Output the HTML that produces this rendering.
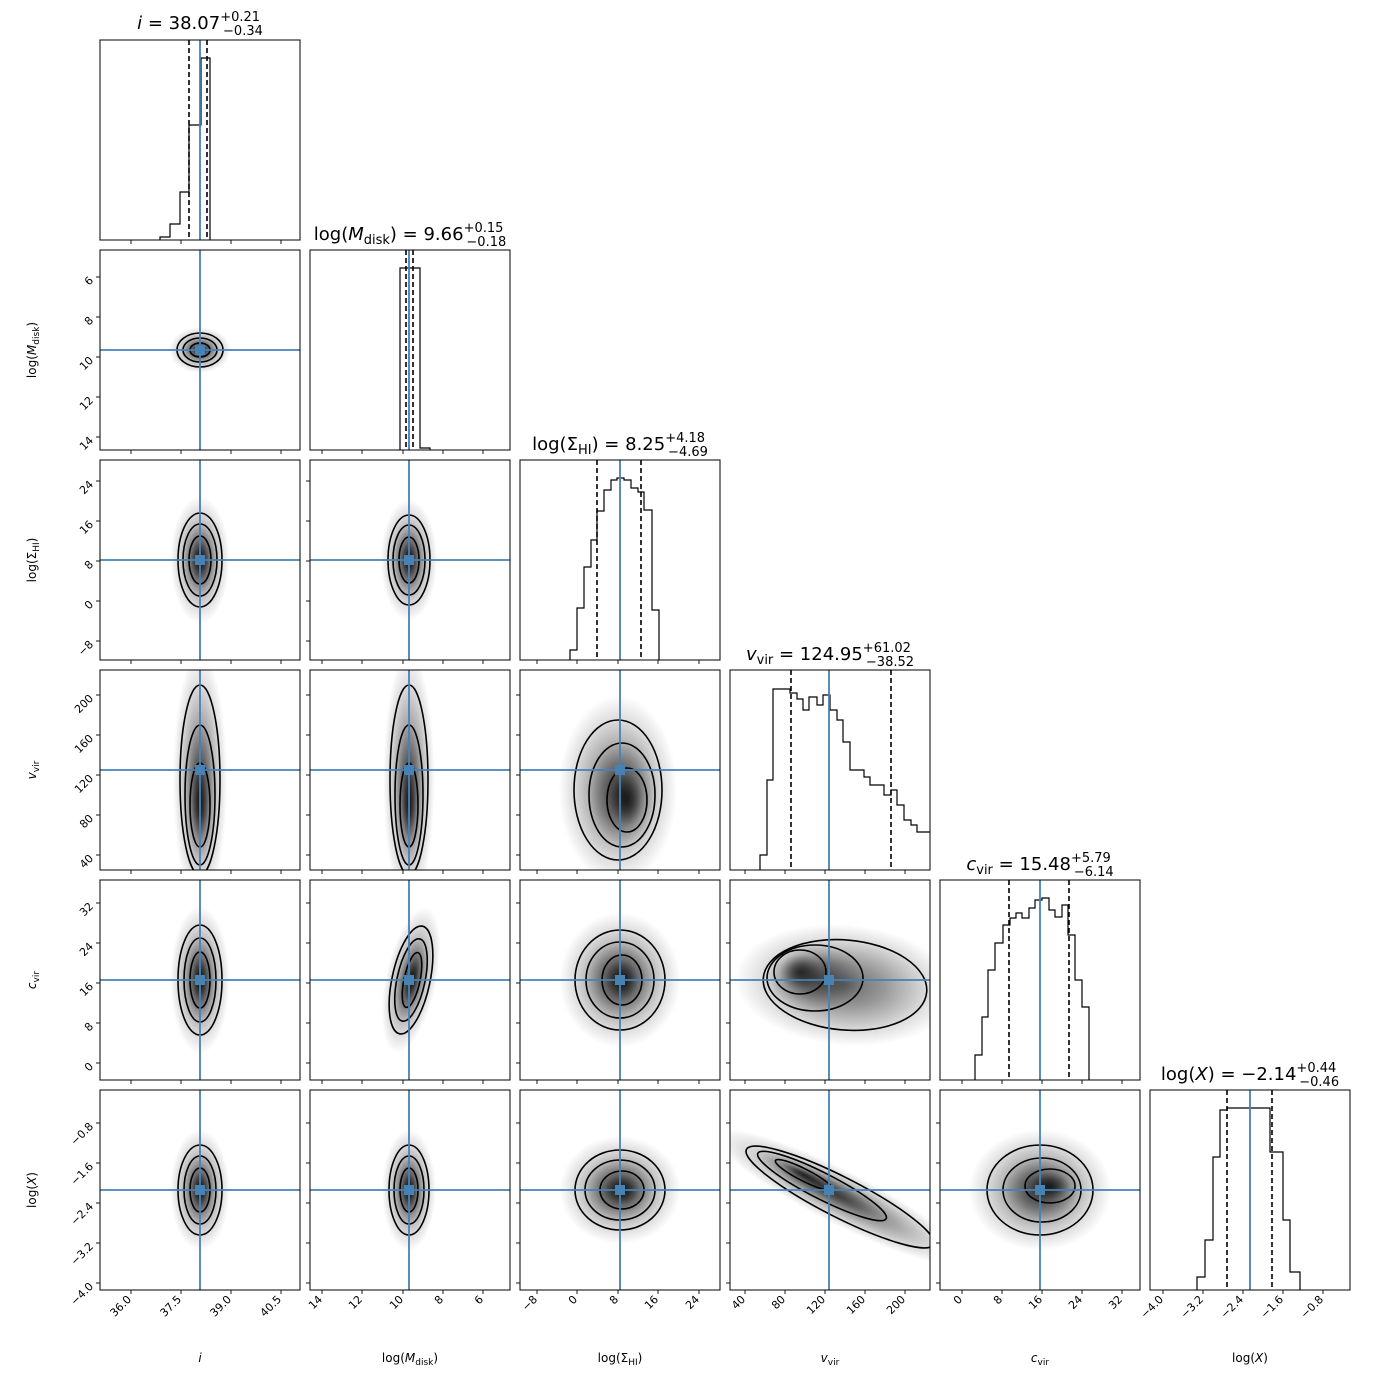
<!DOCTYPE html>
<html><head><meta charset="utf-8"><style>
html,body{margin:0;padding:0;background:#fff}
svg{display:block;font-family:"DejaVu Sans","Liberation Sans",sans-serif}
</style></head><body>
<svg id="s" width="1390" height="1390" viewBox="0 0 1390 1390" xmlns="http://www.w3.org/2000/svg">
<defs>
<radialGradient id="g"><stop offset="0" stop-color="#000" stop-opacity="0.98"/><stop offset="0.35" stop-color="#000" stop-opacity="0.68"/><stop offset="0.75" stop-color="#000" stop-opacity="0.22"/><stop offset="1" stop-color="#000" stop-opacity="0"/></radialGradient>
</defs>
<rect width="1390" height="1390" fill="#fff"/>
<g id="content"></g>
<g id="texts" font-size="11" fill="#000">
<g text-anchor="end">
<text transform="translate(132,1300) rotate(-45)">36.0</text>
<text transform="translate(182,1300) rotate(-45)">37.5</text>
<text transform="translate(232,1300) rotate(-45)">39.0</text>
<text transform="translate(282,1300) rotate(-45)">40.5</text>
<text transform="translate(323,1300) rotate(-45)">14</text>
<text transform="translate(363,1300) rotate(-45)">12</text>
<text transform="translate(404,1300) rotate(-45)">10</text>
<text transform="translate(444,1300) rotate(-45)">8</text>
<text transform="translate(484,1300) rotate(-45)">6</text>
<text transform="translate(538,1300) rotate(-45)">−8</text>
<text transform="translate(578,1300) rotate(-45)">0</text>
<text transform="translate(619,1300) rotate(-45)">8</text>
<text transform="translate(659,1300) rotate(-45)">16</text>
<text transform="translate(700,1300) rotate(-45)">24</text>
<text transform="translate(746,1300) rotate(-45)">40</text>
<text transform="translate(786,1300) rotate(-45)">80</text>
<text transform="translate(826,1300) rotate(-45)">120</text>
<text transform="translate(866,1300) rotate(-45)">160</text>
<text transform="translate(906,1300) rotate(-45)">200</text>
<text transform="translate(963,1300) rotate(-45)">0</text>
<text transform="translate(1003,1300) rotate(-45)">8</text>
<text transform="translate(1043,1300) rotate(-45)">16</text>
<text transform="translate(1083,1300) rotate(-45)">24</text>
<text transform="translate(1123,1300) rotate(-45)">32</text>
<text transform="translate(1164,1300) rotate(-45)">−4.0</text>
<text transform="translate(1204,1300) rotate(-45)">−3.2</text>
<text transform="translate(1244,1300) rotate(-45)">−2.4</text>
<text transform="translate(1284,1300) rotate(-45)">−1.6</text>
<text transform="translate(1324,1300) rotate(-45)">−0.8</text>
<text transform="translate(94,281) rotate(-45)">6</text>
<text transform="translate(94,321) rotate(-45)">8</text>
<text transform="translate(94,361) rotate(-45)">10</text>
<text transform="translate(94,401) rotate(-45)">12</text>
<text transform="translate(94,441) rotate(-45)">14</text>
<text transform="translate(94,485) rotate(-45)">24</text>
<text transform="translate(94,525) rotate(-45)">16</text>
<text transform="translate(94,565) rotate(-45)">8</text>
<text transform="translate(94,605) rotate(-45)">0</text>
<text transform="translate(94,645) rotate(-45)">−8</text>
<text transform="translate(94,699) rotate(-45)">200</text>
<text transform="translate(94,739) rotate(-45)">160</text>
<text transform="translate(94,779) rotate(-45)">120</text>
<text transform="translate(94,819) rotate(-45)">80</text>
<text transform="translate(94,859) rotate(-45)">40</text>
<text transform="translate(94,907) rotate(-45)">32</text>
<text transform="translate(94,947) rotate(-45)">24</text>
<text transform="translate(94,987) rotate(-45)">16</text>
<text transform="translate(94,1027) rotate(-45)">8</text>
<text transform="translate(94,1067) rotate(-45)">0</text>
<text transform="translate(94,1127) rotate(-45)">−0.8</text>
<text transform="translate(94,1167) rotate(-45)">−1.6</text>
<text transform="translate(94,1207) rotate(-45)">−2.4</text>
<text transform="translate(94,1247) rotate(-45)">−3.2</text>
<text transform="translate(94,1287) rotate(-45)">−4.0</text>
</g>
<g text-anchor="middle" font-size="12">
<text x="200" y="1362" font-style="italic">i</text>
<text x="410" y="1362">log(<tspan font-style="italic">M</tspan><tspan font-size="9" dy="3">disk</tspan><tspan dy="-3">)</tspan></text>
<text x="620" y="1362">log(Σ<tspan font-size="9" dy="3">HI</tspan><tspan dy="-3">)</tspan></text>
<text x="830" y="1362"><tspan font-style="italic">v</tspan><tspan font-size="9" dy="3">vir</tspan></text>
<text x="1040" y="1362"><tspan font-style="italic">c</tspan><tspan font-size="9" dy="3">vir</tspan></text>
<text x="1250" y="1362">log(<tspan font-style="italic">X</tspan>)</text>
<text transform="translate(36,350) rotate(-90)">log(<tspan font-style="italic">M</tspan><tspan font-size="9" dy="3">disk</tspan><tspan dy="-3">)</tspan></text>
<text transform="translate(36,560) rotate(-90)">log(Σ<tspan font-size="9" dy="3">HI</tspan><tspan dy="-3">)</tspan></text>
<text transform="translate(36,770) rotate(-90)"><tspan font-style="italic">v</tspan><tspan font-size="9" dy="3">vir</tspan></text>
<text transform="translate(36,980) rotate(-90)"><tspan font-style="italic">c</tspan><tspan font-size="9" dy="3">vir</tspan></text>
<text transform="translate(36,1190) rotate(-90)">log(<tspan font-style="italic">X</tspan>)</text>
</g>
<g text-anchor="middle" font-size="18">
<text x="200" y="29"><tspan font-style="italic">i</tspan> = 38.07<tspan font-size="13" dy="-8">+0.21</tspan><tspan font-size="13" dx="-37" dy="14">−0.34</tspan></text>
<text x="410" y="240">log(<tspan font-style="italic">M</tspan><tspan font-size="13" dy="4">disk</tspan><tspan dy="-4">) = 9.66</tspan><tspan font-size="13" dy="-8">+0.15</tspan><tspan font-size="13" dx="-37" dy="14">−0.18</tspan></text>
<text x="620" y="450">log(Σ<tspan font-size="13" dy="4">HI</tspan><tspan dy="-4">) = 8.25</tspan><tspan font-size="13" dy="-8">+4.18</tspan><tspan font-size="13" dx="-37" dy="14">−4.69</tspan></text>
<text x="830" y="660"><tspan font-style="italic">v</tspan><tspan font-size="13" dy="4">vir</tspan><tspan dy="-4"> = 124.95</tspan><tspan font-size="13" dy="-8">+61.02</tspan><tspan font-size="13" dx="-45" dy="14">−38.52</tspan></text>
<text x="1040" y="870"><tspan font-style="italic">c</tspan><tspan font-size="13" dy="4">vir</tspan><tspan dy="-4"> = 15.48</tspan><tspan font-size="13" dy="-8">+5.79</tspan><tspan font-size="13" dx="-37" dy="14">−6.14</tspan></text>
<text x="1250" y="1080">log(<tspan font-style="italic">X</tspan>) = −2.14<tspan font-size="13" dy="-8">+0.44</tspan><tspan font-size="13" dx="-37" dy="14">−0.46</tspan></text>
</g>
</g>
</svg>
<script>
const C=document.getElementById("content");
let h="";
const X0=[100,310,520,730,940,1150], Y0=[40,250,460,670,880,1090];
const TX=[[131,181,231,281],[322,362,403,443,483],[537,577,618,658,699],[745,785,825,865,905],[962,1002,1042,1082,1122],[1163,1203,1243,1283,1323]];
const TY=[[],[277,317,357,397,437],[481,521,561,601,641],[695,735,775,815,855],[903,943,983,1023,1063],[1123,1163,1203,1243,1283]];
const TRX=[200,409,620,829,1040,1250], TRY=[0,350,560,770,980,1190];
const P={
"1,0":[[200,350,23,17,0],[200,350,17,12,0],[200,350,10,7,0]],
"2,0":[[200,560,22,47,0],[200,560,17,36,0],[200,560,11,24,0]],
"2,1":[[409,560,21,45,0],[409,560,16,35,0],[409,560,10,23,0]],
"3,0":[[200,780,20,95,0],[200,795,15,70,0],[200,805,10,42,0]],
"3,1":[[409,780,19,95,0],[409,795,14,70,0],[409,805,9,42,0]],
"3,2":[[618,790,44,70,0],[622,795,33,52,0],[627,800,20,32,0]],
"4,0":[[200,980,22,55,0],[200,980,16,42,0],[200,980,10,28,0]],
"4,1":[[411,980,19,55,12],[411,980,14,42,12],[412,980,8,28,12]],
"4,2":[[620,980,45,50,0],[620,980,34,38,0],[622,980,20,25,0]],
"4,3":[[845,985,82,45,5],[815,978,48,33,0],[800,972,26,22,0]],
"5,0":[[200,1190,22,45,0],[200,1190,16,34,0],[200,1190,10,22,0]],
"5,1":[[409,1190,20,45,0],[409,1190,15,34,0],[409,1190,9,22,0]],
"5,2":[[620,1190,45,40,0],[620,1190,35,30,0],[622,1190,22,19,0]],
"5,3":[[840,1197,105,20,27],[822,1186,72,13,27],[804,1175,32,6,27]],
"5,4":[[1040,1190,53,45,0],[1042,1190,39,32,0],[1050,1186,25,17,0]]
};
const HIST=[
{p:"M160,240V237H170V224H180V192H189V125H201V58H210V240",d:[189,207]},
{p:"M400,450V268H420V448H430V450",d:[406,413]},
{p:"M570,660V650H577V608H584V567H591V540H597V511H604V490H611V480H617V478H624V480H631V488H638V492H644V510H652V610H659V660",d:[597,641]},
{p:"M760,870V855H767V780H773V689H790V693H797V699H803V710H809V697H817V705H823V695H830V710H837V720H843V742H850V770H864V777H870V785H884V795H891V790H897V805H904V820H911V825H917V832H930",d:[791,891]},
{p:"M975,1080V1055H982V1017H988V970H995V943H1003V925H1010V918H1016V913H1022V918H1029V908H1035V900H1042V898H1049V910H1055V917H1062V905H1068V935H1075V980H1082V1007H1089V1080",d:[1009,1069]},
{p:"M1197,1290V1277H1205V1240H1213V1157H1220V1110H1227V1108H1270V1152H1277V1152H1283V1220H1290V1272H1300V1290",d:[1227,1272]}
];
for(let r=0;r<6;r++)for(let c=0;c<=r;c++){
 const x=X0[c],y=Y0[r];
 h+=`<clipPath id="c${r}${c}"><rect x="${x}" y="${y}" width="200" height="200"/></clipPath>`;
 h+=`<g clip-path="url(#c${r}${c})">`;
 if(r==c){
  const H=HIST[r];
  h+=`<path d="${H.p}" fill="none" stroke="#000" stroke-width="1.2"/>`;
  H.d.forEach(d=>h+=`<line x1="${d}" y1="${y}" x2="${d}" y2="${y+200}" stroke="#000" stroke-width="1.6" stroke-dasharray="5,3"/>`);
  h+=`<line x1="${TRX[c]}" y1="${y}" x2="${TRX[c]}" y2="${y+200}" stroke="#4682b4" stroke-width="1.8"/>`;
 }else{
  const s=P[r+","+c];
  s.forEach((e,i)=>{const k=[1.35,1.0,0.8][i];h+=`<ellipse cx="${e[0]}" cy="${e[1]}" rx="${e[2]*k}" ry="${e[3]*k}" transform="rotate(${e[4]} ${e[0]} ${e[1]})" fill="url(#g)" opacity="${[0.6,0.55,0.65][i]}"/>`;});
  s.forEach(e=>h+=`<ellipse cx="${e[0]}" cy="${e[1]}" rx="${e[2]}" ry="${e[3]}" transform="rotate(${e[4]} ${e[0]} ${e[1]})" fill="none" stroke="#000" stroke-width="1.6"/>`);
  h+=`<line x1="${TRX[c]}" y1="${y}" x2="${TRX[c]}" y2="${y+200}" stroke="#4682b4" stroke-width="1.8"/>`;
  h+=`<line x1="${x}" y1="${TRY[r]}" x2="${x+200}" y2="${TRY[r]}" stroke="#4682b4" stroke-width="1.8"/>`;
  h+=`<rect x="${TRX[c]-5}" y="${TRY[r]-5}" width="10" height="10" fill="#4682b4"/>`;
 }
 h+=`</g>`;
 h+=`<rect x="${x}" y="${y}" width="200" height="200" fill="none" stroke="#000" stroke-width="1"/>`;
 TX[c].forEach(t=>h+=`<line x1="${t}" y1="${y+200}" x2="${t}" y2="${y+204}" stroke="#000" stroke-width="0.9"/>`);
 if(r!=c) TY[r].forEach(t=>h+=`<line x1="${x}" y1="${t}" x2="${x-4}" y2="${t}" stroke="#000" stroke-width="0.9"/>`);
}
C.innerHTML=h;
</script>
</body></html>
